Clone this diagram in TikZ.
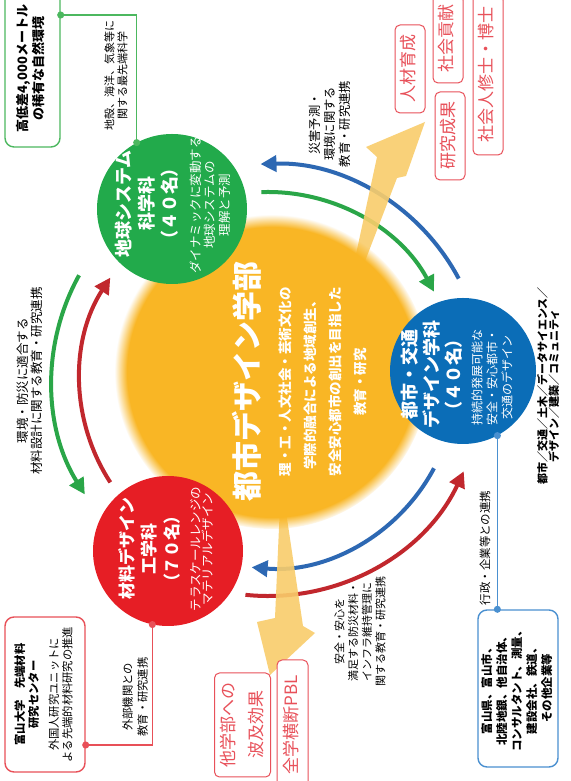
\documentclass[tikz,border=0pt]{standalone}
\usepackage{fontspec}
\setmainfont{Noto Sans CJK JP}
\usepackage{graphicx}
\usetikzlibrary{arrows.meta,calc,fadings}

\definecolor{sun}{RGB}{249,182,37}
\definecolor{beam}{RGB}{249,205,107}
\definecolor{geogreen}{RGB}{34,170,75}
\definecolor{matred}{RGB}{230,30,37}
\definecolor{urbblue}{RGB}{11,109,183}
\definecolor{arcgreen}{RGB}{42,166,72}
\definecolor{arcred}{RGB}{193,39,45}
\definecolor{arcblue}{RGB}{45,104,179}
\definecolor{outred}{RGB}{232,81,90}
\definecolor{boxgreen}{RGB}{76,184,95}
\definecolor{boxred}{RGB}{232,80,88}
\definecolor{boxblue}{RGB}{74,144,208}

\pgfdeclareradialshading{sunshade}{\pgfpointorigin}{%
  color(0bp)=(pgftransparent!0); color(23bp)=(pgftransparent!0);
  color(25bp)=(pgftransparent!100); color(50bp)=(pgftransparent!100)}
\pgfdeclarefading{sunfade}{\pgfuseshading{sunshade}}

\newcommand\vtext[1]{\rotatebox{90}{\begin{tabular}{@{}c@{}}#1\end{tabular}}}
\newcommand\fs[2]{\fontsize{#1}{#2}\selectfont}
\newcommand\halfp[1]{{\addfontfeature{RawFeature=+palt}#1}}
\newcommand\quota[1]{\halfp{（}#1名\halfp{）}}

\tikzset{
  discnode/.style={circle, inner sep=0, minimum size=#1},
  vtitle/.style={rotate=90, align=center, inner sep=0, text=white, font=\bfseries\fs{18}{23}},
  vdesc/.style={rotate=90, align=center, inner sep=0, text=white, font=\fs{12.5}{14.5}},
  vnote/.style={rotate=90, align=center, inner sep=0, font=\fs{12.5}{14.5}},
  ringarc/.style={line width=4pt, -{Triangle[length=16pt,width=16pt]}},
  tapline/.style={line width=1.3pt, {Circle[length=7pt]}-{Circle[length=7pt]},
    shorten <=-3.5pt, shorten >=-3.5pt},
  infobox/.style={draw, line width=1.4pt, rounded corners=9pt, fill=white,
    inner sep=0, font=\bfseries\fs{11.5}{15}},
  outbox/.style={draw=outred, text=outred, line width=1pt, rounded corners=5pt,
    fill=white, inner sep=0, font=\fs{17}{24}},
}

\begin{document}
\begin{tikzpicture}[x=1pt,y=1pt]
  \useasboundingbox (0,0) rectangle (570,781);
  \clip (0,0) rectangle (570,781);
  \fill[white] (0,0) rectangle (570,781);

  \coordinate (hub) at (272,409);
  \coordinate (hubring) at (268,401);

  % ring of arrows round the faculty
  \draw[ringarc, arcgreen] ([shift={(151:216)}]hubring) arc[start angle=151, end angle=212, radius=216];
  \draw[ringarc, arcred] ([shift={(213:188)}]hubring) arc[start angle=213, end angle=147, radius=188];
  \draw[ringarc, arcblue] ([shift={(28:216)}]hubring) arc[start angle=28, end angle=92, radius=216];
  \draw[ringarc, arcgreen] ([shift={(92:188)}]hubring) arc[start angle=92, end angle=28, radius=188];
  \draw[ringarc, arcblue] ([shift={(332:188)}]hubring) arc[start angle=332, end angle=265, radius=188];
  \draw[ringarc, arcred] ([shift={(264:216)}]hubring) arc[start angle=264, end angle=335, radius=216];

  % outcome arrows
  \fill[beam, opacity=0.9] (350,499) -- (377,624) -- (366,634) -- (425,659) -- (406,605) -- (397,603) -- (357,499) -- cycle;
  \fill[beam, opacity=0.9] (280,276) -- (285,276) -- (303,155) -- (315,148) -- (270,106) -- (257,159) -- (275,163) -- cycle;

  % faculty
  \fill[sun, path fading=sunfade] (hub) circle (157);
  \node[rotate=90, inner sep=0, text=white, font=\bfseries\fs{30}{34}] (deptitle) at (247,399) {都市デザイン学部};
  \node[rotate=90, align=center, inner sep=0, text=white, font=\bfseries\fs{13.5}{25}] (deptaim) at (323,399)
    {理・工・人文社会・芸術文化の\\学際的融合による地域創生、\\安全安心都市の創出を目指した\\教育・研究};

  % departments
  \node[discnode=150, fill=geogreen] (geo) at (172,572) {};
  \node[vtitle] (geotitle) at (147,577) {地球システム\\科学科\\\quota{４０}};
  \node[vdesc] (geodesc) at (210,576) {ダイナミックに変動する\\地球システムの\\理解と予測};

  \node[discnode=150, fill=matred] (mat) at (168,230) {};
  \node[vtitle, font=\bfseries\fs{17}{22.5}] (mattitle) at (149,232) {材料デザイン\\工学科\\\quota{７０}};
  \node[vdesc, font=\fs{12.5}{12.5}] (matdesc) at (202,232) {テラスケールレンジの\\マテリアルデザイン};

  \node[discnode=146, fill=urbblue] (urb) at (463,410) {};
  \node[vtitle, font=\bfseries\fs{18}{22}] (urbtitle) at (432,406) {都市・交通\\デザイン学科\\\quota{４０}};
  \node[vdesc, font=\fs{12}{15}] (urbdesc) at (492,403) {持続的発展可能な\\安全・安心都市・\\交通のデザイン};
  \node[vnote, font=\bfseries\fs{11}{11.5}] (urbfields) at (548,395) {都市／交通／土木／データサイエンス／\\デザイン／建築／コミュニティ};

  % links
  \node[vnote, font=\fs{11}{13}] (geonote) at (116,705) {地殻、海洋、気象等に\\関する最先端科学};
  \node[vnote] (leftnote) at (30,400) {環境・防災に適合する\\材料設計に関する教育・研究連携};
  \node[vnote, font=\fs{12.3}{15}] (topnote) at (330,657) {災害予測・\\環境に関する\\教育・研究連携};
  \node[vnote, font=\fs{11}{13.7}] (lownote) at (360,149) {安全・安心を\\満足する防災材料・\\インフラ維持管理に\\関する教育・研究連携};
  \node[vnote, font=\fs{11.3}{15}] (matnote) at (135,84) {外部機関との\\教育・研究連携};
  \node[vnote, font=\fs{11.5}{13}] (urbnote) at (485,233) {行政・企業等との連携};

  % partners
  \node[infobox, draw=boxgreen, minimum width=55, minimum height=157, font=\bfseries\fs{13}{15}] (geobox) at (32.5,712.5)
    {\vtext{高低差4,000メートル\\の稀有な自然環境}};
  \node[infobox, draw=boxred, minimum width=80, minimum height=155, font=\fs{11.3}{13}] (matbox) at (45,86.5)
    {\vtext{\textbf{富山大学　先端材料}\\ \textbf{研究センター}\\[7pt] 外国人研究ユニットに\\ よる先端的材料研究の推進}};
  \node[infobox, draw=boxblue, minimum width=80, minimum height=157] (urbbox) at (518,92.5)
    {\vtext{富山県、富山市、\\北陸地銀、他自治体、\\コンサルタント、測量、\\建設会社、鉄道、\\その他企業等}};

  \draw[tapline, boxgreen] (geo.118) |- ($(geobox.east)+(0,53.5)$);
  \draw[tapline, boxred] (mat.258) |- ($(matbox.east)+(0,-50.5)$);
  \draw[tapline, boxblue] (urb.298) -- (urb.298 |- urbbox.north);

  % outcomes
  \node[outbox, minimum width=30, minimum height=88] (talent) at (410,712) {\vtext{人材育成}};
  \node[outbox, minimum width=30, minimum height=88] (contrib) at (448,742) {\vtext{社会貢献}};
  \node[outbox, minimum width=30, minimum height=88] (results) at (450,645) {\vtext{研究成果}};
  \node[outbox, minimum width=30, minimum height=160] (degree) at (488,706) {\vtext{社会人修士・博士}};
  \node[outbox, minimum width=51, minimum height=104, font=\fs{17}{28}] (spread) at (242.5,56) {\vtext{他学部への\\波及効果}};
  \node[outbox, minimum width=31, minimum height=130] (pbl) at (292.5,56) {\vtext{全学横断PBL}};
\end{tikzpicture}
\end{document}
